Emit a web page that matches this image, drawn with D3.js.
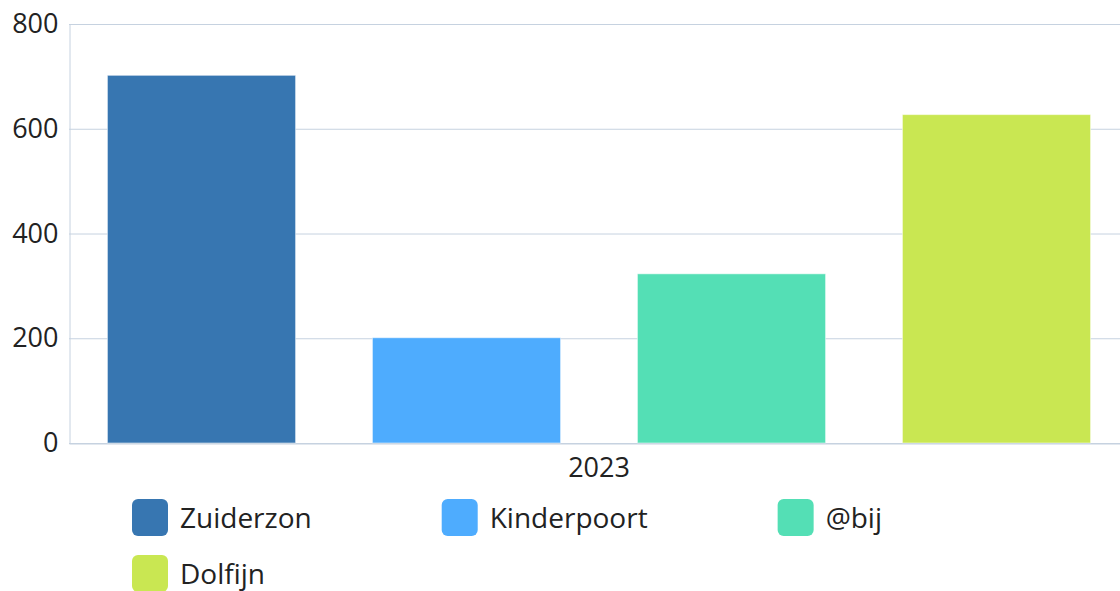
<!DOCTYPE html>
<html>
<head>
<meta charset="utf-8">
<script src="https://cdn.jsdelivr.net/npm/d3@7"></script>
<style>
  html, body { margin: 0; padding: 0; background: #fff; overflow: hidden; }
  svg { display: block; font-family: "Open Sans", "Noto Sans", sans-serif; }
</style>
</head>
<body>
<svg id="chart" width="1120" height="591"></svg>
<script>
const categories = ["2023"];
const seriesNames = ["Zuiderzon", "Kinderpoort", "@bij", "Dolfijn"];
const seriesColors = ["#3776b1", "#4eacfe", "#54dfb5", "#c9e752"];
const seriesValues = [[702], [201], [323], [627]];
const yTicks = [0, 200, 400, 600, 800];

const svg = d3.select("#chart");
const margin = { top: 24, left: 69, bottom: 148 };
const plotRight = 1129;
const height = 591;

const x = d3.scaleBand().domain(categories).range([margin.left, plotRight]).padding(0);
const xs = d3.scaleBand().domain(seriesNames).range([0, x.bandwidth()])
  .paddingInner(0.29).paddingOuter(0.145);
const y = d3.scaleLinear().domain([0, 800]).range([height - margin.bottom, margin.top]);

const gridColor = "#c6d2e0";

// grid
svg.append("g")
  .selectAll("line")
  .data(yTicks)
  .join("line")
  .attr("x1", margin.left).attr("x2", plotRight)
  .attr("y1", d => y(d) + 0.5).attr("y2", d => y(d) + 0.5)
  .attr("stroke", gridColor).attr("stroke-width", 1);

// y axis
const yAxis = svg.append("g")
  .attr("transform", `translate(${margin.left + 0.5},0)`)
  .call(d3.axisLeft(y).tickValues(yTicks).tickSize(0).tickPadding(11))
  .attr("font-family", null).attr("font-size", 27);
yAxis.select(".domain").attr("stroke", gridColor);
yAxis.selectAll("text").attr("fill", "#222");

// bars
categories.forEach((c, ci) => {
  svg.append("g")
    .selectAll("rect")
    .data(seriesNames)
    .join("rect")
    .attr("x", s => x(c) + xs(s))
    .attr("width", xs.bandwidth())
    .attr("y", (s, i) => y(seriesValues[i][ci]))
    .attr("height", (s, i) => y(0) - y(seriesValues[i][ci]))
    .attr("fill", (s, i) => seriesColors[i])
    .attr("stroke", "rgba(255,255,255,0.5)")
    .attr("stroke-width", 1);
});

// x axis
const xAxis = svg.append("g")
  .attr("transform", `translate(0,${y(0) + 0.5})`)
  .call(d3.axisBottom(x).tickSize(0).tickPadding(14))
  .attr("font-family", null).attr("font-size", 27);
xAxis.select(".domain").attr("stroke", gridColor);
xAxis.selectAll("text").attr("fill", "#222");

// legend
const legend = svg.append("g");
let lx = 132, ly = 499;
const gap = 130, sw = 36, sh = 37, rowH = 56, maxX = 1120;
seriesNames.forEach((name, i) => {
  const item = legend.append("g");
  item.append("rect")
    .attr("width", sw).attr("height", sh).attr("rx", 6)
    .attr("fill", seriesColors[i]);
  const t = item.append("text")
    .attr("x", sw + 12).attr("y", sh / 2 + 10)
    .attr("font-size", 28).attr("fill", "#222")
    .text(name);
  const w = sw + 12 + t.node().getComputedTextLength();
  if (lx + w > maxX && lx > 132) { lx = 132; ly += rowH; }
  item.attr("transform", `translate(${lx},${ly})`);
  lx += w + gap;
});
</script>
</body>
</html>
